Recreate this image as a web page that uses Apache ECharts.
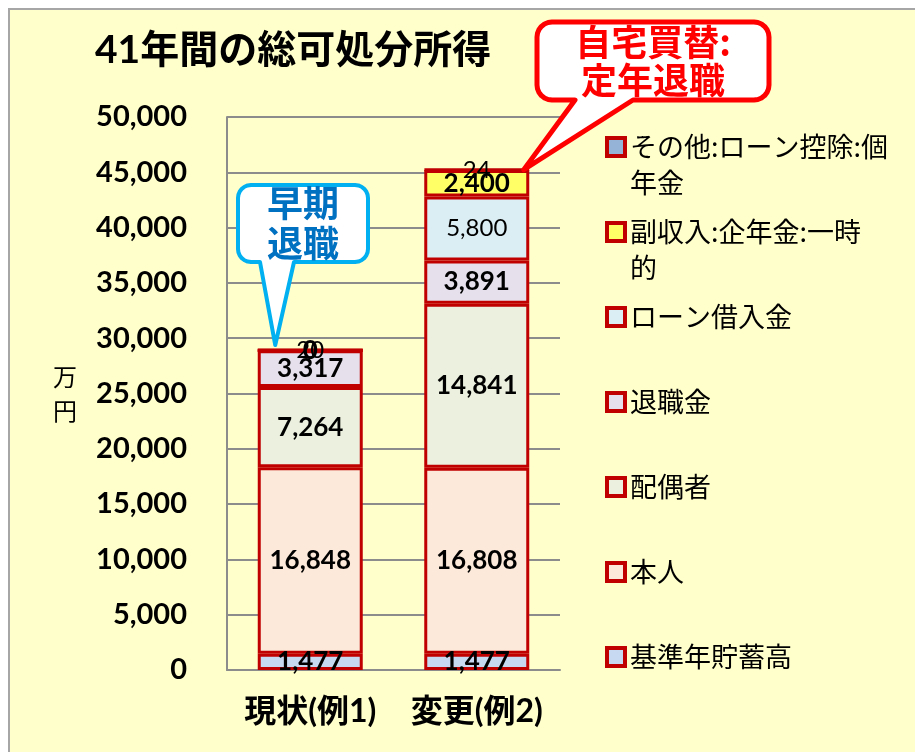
<!DOCTYPE html>
<html>
<head>
<meta charset="utf-8">
<script src="https://cdn.jsdelivr.net/npm/echarts@6/dist/echarts.min.js"></script>
<style>
  html, body { margin: 0; padding: 0; background: #fff; width: 915px; height: 752px; overflow: hidden; }
  #chart {
    position: absolute; left: 8px; top: 8px;
    width: 907px; height: 744px;
    border-left: 2px solid #a6a6a6; border-top: 2px solid #a6a6a6;
  }
</style>
</head>
<body>
<div id="chart"></div>
<script>
// categories and series (bottom to top of each stacked bar)
const categories = ['現状(例1)', '変更(例2)']
const seriesNames = ['基準年貯蓄高', '本人', '配偶者', '退職金', 'ローン借入金', '副収入:企年金:一時的', 'その他:ローン控除:個年金']
const savings = [1477, 1477]
const self = [16848, 16808]
const spouse = [7264, 14841]
const retirement = [3317, 3891]
const loan = [0, 5800]
const sideIncome = [0, 2400]
const other = [20, 24]
const seriesValues = [savings, self, spouse, retirement, loan, sideIncome, other]
const seriesColors = ['#c6d9f1', '#fde9d9', '#ebf1de', '#e5e0ec', '#dbeef4', '#ffff66', '#95b3d7']
const labelBold = [true, true, true, true, false, true, false]
// legend text wrapped like the original
const legendLines = {
  'その他:ローン控除:個年金': ['その他:ローン控除:個', '年金'],
  '副収入:企年金:一時的': ['副収入:企年金:一時', '的']
}
const yTicks = { min: 0, max: 50000, interval: 5000 }
const title = '41年間の総可処分所得'
const notes = [
  { text: '早期\n退職', color: '#0070c0', border: '#00b0f0', cat: 0 },
  { text: '自宅買替:\n定年退職', color: '#ff0000', border: '#ff0000', cat: 1 }
]

const numFont = 'Lato, "Noto Sans CJK JP", sans-serif'
const jpFont = '"Noto Sans CJK JP", sans-serif'

const chart = echarts.init(document.getElementById('chart'))

chart.setOption({
  backgroundColor: '#ffffcc',
  animation: false,
  title: {
    text: title,
    left: 85,
    top: 21,
    padding: 0,
    textStyle: { fontSize: 39, fontWeight: 'bold', color: '#000', fontFamily: numFont }
  },
  grid: { left: 217, top: 107, width: 333, height: 553 },
  legend: {
    orient: 'vertical',
    left: 595,
    top: 83,
    padding: 0,
    itemWidth: 18,
    itemHeight: 18,
    itemGap: -23,
    icon: 'rect',
    data: seriesNames.slice().reverse(),
    itemStyle: { borderColor: '#c00000', borderWidth: 4 },
    formatter: name => {
      const lines = legendLines[name] || [name, '']
      return '\n' + lines.join('\n')
    },
    textStyle: { fontSize: 27, lineHeight: 36, color: '#000', fontFamily: jpFont }
  },
  xAxis: {
    type: 'category',
    data: categories,
    axisLine: { lineStyle: { color: '#8c8c8c', width: 2 } },
    axisTick: { show: false },
    axisLabel: { interval: 0, margin: 26, fontSize: 32, fontWeight: 'bold', color: '#000', fontFamily: numFont }
  },
  yAxis: {
    type: 'value',
    min: yTicks.min,
    max: yTicks.max,
    interval: yTicks.interval,
    name: '万\n円',
    nameLocation: 'middle',
    nameRotate: 0,
    nameGap: 150,
    nameTextStyle: { fontSize: 24, lineHeight: 34, color: '#000', fontFamily: jpFont },
    axisLine: { show: true, lineStyle: { color: '#8c8c8c', width: 2 } },
    axisTick: { show: false },
    splitLine: { lineStyle: { color: '#8c8c8c', width: 2 } },
    axisLabel: {
      margin: 40,
      fontSize: 29,
      fontWeight: 'bold',
      color: '#000',
      fontFamily: numFont,
      formatter: v => v.toLocaleString('en-US')
    }
  },
  series: seriesNames.map((name, i) => ({
    name,
    type: 'bar',
    stack: 'total',
    barWidth: 105,
    data: seriesValues[i],
    itemStyle: { color: seriesColors[i], borderColor: '#c00000', borderWidth: 3 },
    label: {
      show: true,
      position: 'inside',
      color: '#000',
      fontFamily: numFont,
      fontSize: labelBold[i] ? 26 : 24,
      fontWeight: labelBold[i] ? 'bold' : 'normal',
      formatter: p => p.value.toLocaleString('en-US')
    }
  }))
})

// outline of a rounded box with a tail on its bottom edge
function bubblePoints(x, y, w, h, r, b1, b2, tx, ty) {
  const pts = []
  const arc = (cx, cy, a0) => {
    for (let k = 0; k <= 6; k++) {
      const a = (a0 + k * 15) * Math.PI / 180
      pts.push([cx + r * Math.cos(a), cy + r * Math.sin(a)])
    }
  }
  arc(x + r, y + r, 180)
  arc(x + w - r, y + r, 270)
  arc(x + w - r, y + h - r, 0)
  pts.push([b2, y + h], [tx, ty], [b1, y + h])
  arc(x + r, y + h - r, 90)
  return pts
}

const boxes = [
  { x: 228, y: 175, w: 130, h: 77, r: 13, b1: 250, b2: 284, dx: -35, dy: -5, lw: 4, fs: 36, lh: 40 },
  { x: 527, y: 12, w: 232, h: 78, r: 15, b1: 565, b2: 623, dx: 47, dy: 0, lw: 5, fs: 36, lh: 38 }
]

const graphics = []
notes.forEach((n, i) => {
  const top = seriesValues.reduce((s, arr) => s + arr[n.cat], 0)
  const p = chart.convertToPixel({ gridIndex: 0 }, [n.cat, top])
  const b = boxes[i]
  graphics.push({
    type: 'polygon',
    z: 100,
    shape: { points: bubblePoints(b.x, b.y, b.w, b.h, b.r, b.b1, b.b2, p[0] + b.dx, p[1] + b.dy) },
    style: { fill: '#fff', stroke: n.border, lineWidth: b.lw, lineJoin: 'round' }
  })
  graphics.push({
    type: 'text',
    z: 101,
    style: {
      text: n.text,
      x: b.x + b.w / 2,
      y: b.y + b.h / 2,
      textAlign: 'center',
      textVerticalAlign: 'middle',
      fill: n.color,
      fontSize: b.fs,
      fontWeight: 'bold',
      fontFamily: jpFont,
      lineHeight: b.lh
    }
  })
})
chart.setOption({ graphic: graphics })
</script>
</body>
</html>
